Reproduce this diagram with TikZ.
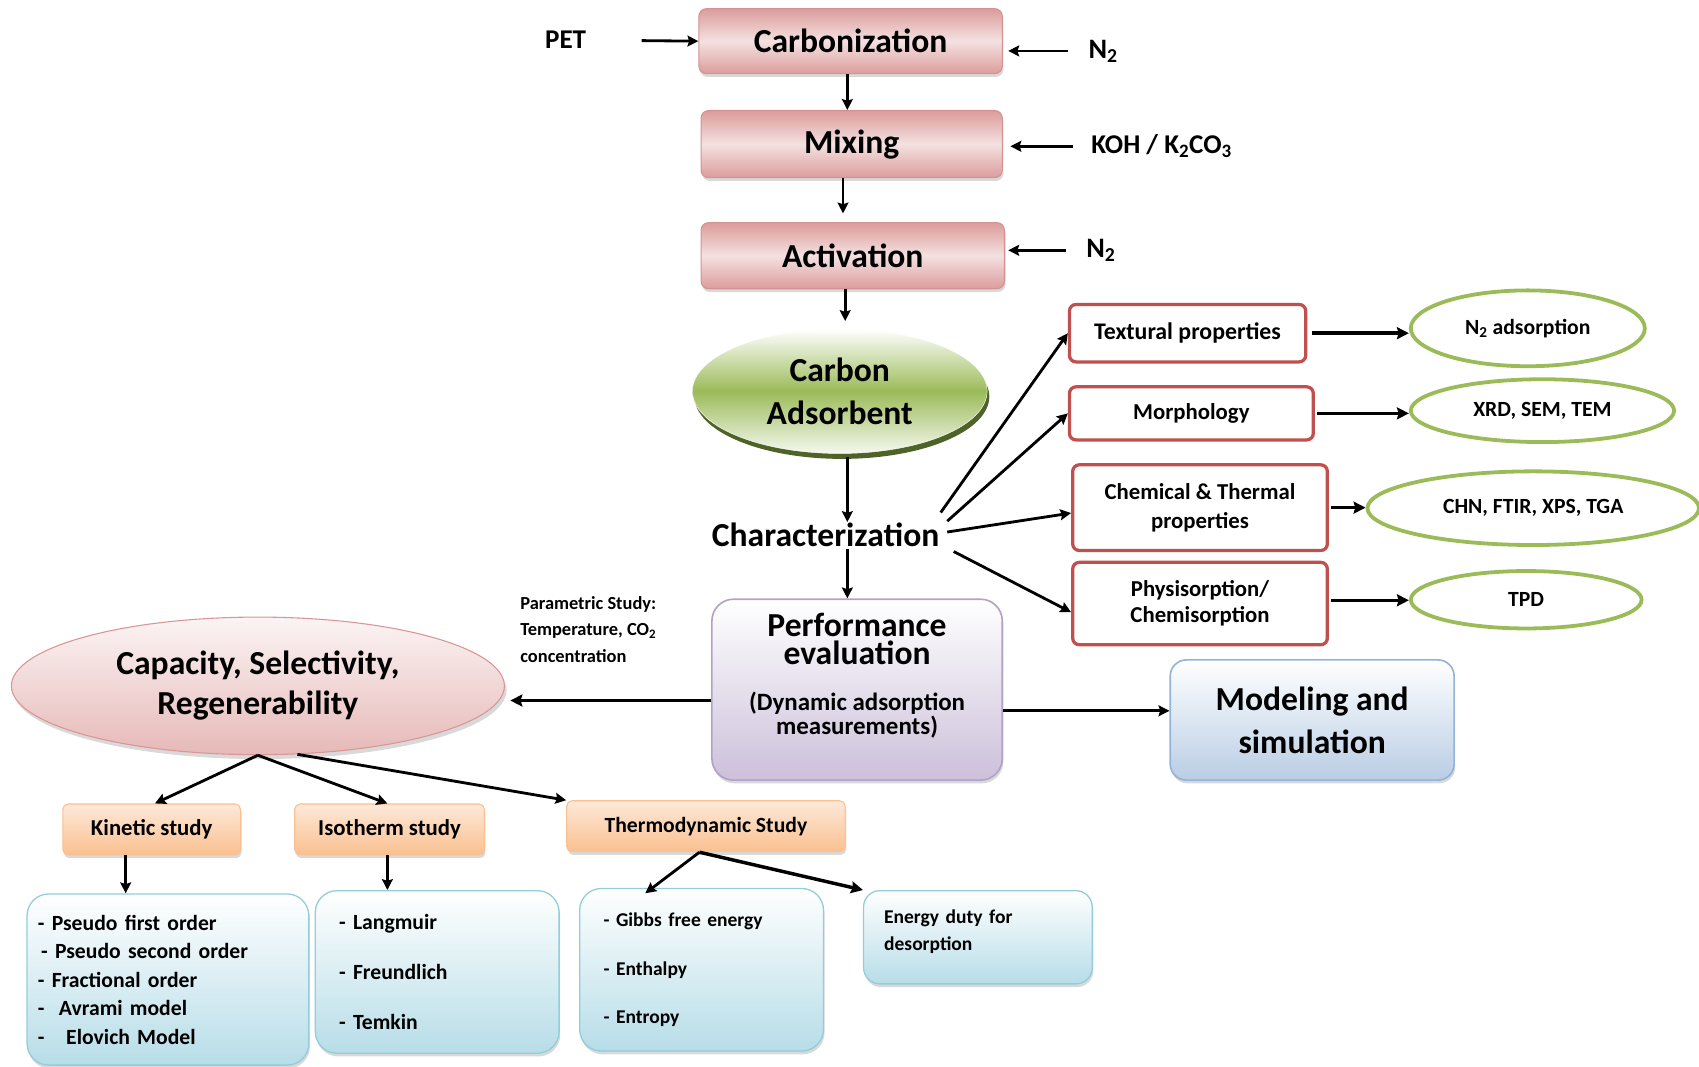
\documentclass[tikz,border=0pt]{standalone}
\usepackage{fontspec}
\setmainfont{Carlito}
\usetikzlibrary{shapes.geometric,shadows,arrows.meta}
\newcommand\fsz[2]{\fontsize{#1}{#2}\selectfont}
\definecolor{procdark}{HTML}{DB9C9B}
\definecolor{proclight}{HTML}{F4E1E1}
\definecolor{procedge}{HTML}{D49392}
\definecolor{carbgreen}{HTML}{9BBB59}
\definecolor{carbshadow}{HTML}{4F6228}
\definecolor{redline}{HTML}{C0504D}
\definecolor{purpline}{HTML}{B3A2C7}
\definecolor{purpfill}{HTML}{CCC0DA}
\definecolor{capfill}{HTML}{E6B9B8}
\definecolor{capline}{HTML}{D99694}
\definecolor{modline}{HTML}{95B3D7}
\definecolor{modfill}{HTML}{B9CDE5}
\definecolor{orangetop}{HTML}{FDE9D9}
\definecolor{orangebot}{HTML}{FAC090}
\definecolor{bluefill}{HTML}{B7DDE8}
\definecolor{blueline}{HTML}{92CDDC}
\begin{document}
\begin{tikzpicture}[x=1pt,y=-1pt,font=\bfseries,
  arr/.style={-{Stealth[length=10pt,width=10pt,inset=1.5pt]},line width=2.6pt},
  bigarr/.style={-{Stealth[length=11pt,width=11pt,inset=1.5pt]},line width=3.2pt},
  procbox/.style={rectangle,rounded corners=7pt,draw=procedge,line width=1pt,
    top color=procdark,bottom color=procdark,middle color=proclight,
    minimum width=280pt,minimum height=60pt,inner sep=0pt,font=\bfseries\fsz{31}{33},
    drop shadow={opacity=0.3,shadow xshift=1pt,shadow yshift=-3pt}},
  propbox/.style={rectangle,rounded corners=6pt,draw=redline,line width=3pt,fill=white,
    inner sep=0pt,align=center,font=\bfseries\fsz{21}{27}},
  techell/.style={ellipse,draw=carbgreen,line width=3.5pt,fill=white,inner sep=0pt,
    font=\bfseries\fsz{20}{24}},
  studybox/.style={rectangle,rounded corners=5pt,draw=orangebot,line width=1pt,
    top color=orangetop,bottom color=orangebot,minimum height=47pt,inner sep=0pt,
    font=\bfseries\fsz{21}{24},drop shadow={opacity=0.3,shadow xshift=1pt,shadow yshift=-3pt}},
  listbox/.style={rectangle,rounded corners=20pt,draw=blueline,line width=1.2pt,
    top color=white,bottom color=bluefill,inner sep=0pt,align=left,
    drop shadow={opacity=0.3,shadow xshift=1pt,shadow yshift=-3pt}},
  plain/.style={inner sep=1pt,align=center}]
\useasboundingbox (0,0) rectangle (1568,984);

% preparation line
\node[procbox] (carb) at (785,38) {Carbonization};
\node[procbox,minimum width=278pt,minimum height=62pt] (mix) at (786,133) {Mixing};
\node[procbox,minimum height=61pt] (act) at (787,236) {Activation};
\node[plain,font=\bfseries\fsz{25}{28}] (pet) at (522,37) {PET};
\node[plain,font=\bfseries\fsz{26}{28}] (n2a) at (1018,47) {N\textsubscript{2}};
\node[plain,font=\bfseries\fsz{25}{28}] (koh) at (1072,135) {KOH / K\textsubscript{2}CO\textsubscript{3}};
\node[plain,font=\bfseries\fsz{26}{28}] (n2b) at (1016,231) {N\textsubscript{2}};

\node[ellipse,minimum width=272pt,minimum height=115pt,inner sep=0pt,draw=white,
  top color=white,bottom color=white!90!carbgreen,middle color=carbgreen,
  drop shadow={fill=carbshadow,opacity=1,shadow xshift=2pt,shadow yshift=-5pt},
  align=center,font=\bfseries\fsz{31}{40}] (carbon) at (775,361) {Carbon\\Adsorbent};
\node[plain,font=\bfseries\fsz{31}{33}] (char) at (762,494) {Characterization};

\draw[arr,shorten <=50pt] (pet.east) -- (carb.west);
\draw[arr,shorten <=18pt,shorten >=5pt] (n2a.west) -- (n2a.west -| carb.east);
\draw[arr,shorten <=16pt,shorten >=7pt] (koh.west) -- (koh.west -| mix.east);
\draw[arr,shorten <=18pt,shorten >=3pt] (n2b.west) -- (n2b.west -| act.east);
\draw[arr] ([xshift=-3pt]carb.south) -- ([xshift=-4pt]mix.north);
\draw[arr] ([xshift=-8pt]mix.south) -- ([xshift=-9pt,yshift=8pt]act.north);
\draw[arr] ([xshift=-7pt]act.south) -- ([xshift=5pt,yshift=7pt]carbon.north);
\draw[arr] ([xshift=7pt,yshift=-3pt]carbon.south) -- ([xshift=20pt]char.north);

% characterization
\node[propbox,minimum width=218pt,minimum height=53pt,font=\bfseries\fsz{22}{26}] (text) at (1096,307.5) {Textural properties};
\node[propbox,minimum width=225pt,minimum height=49pt] (morph) at (1099.5,381.5) {Morphology};
\node[propbox,minimum width=235pt,minimum height=79pt] (chem) at (1107.5,468.5) {Chemical \& Thermal\\properties};
\node[propbox,minimum width=235pt,minimum height=76pt,font=\bfseries\fsz{21}{24}] (phys) at (1107.5,557) {Physisorption/\\Chemisorption};
\node[techell,minimum width=216pt,minimum height=70pt] (n2ad) at (1410,303) {N\textsubscript{2} adsorption};
\node[techell,minimum width=243pt,minimum height=58pt] (xrd) at (1423.5,379) {XRD, SEM, TEM};
\node[techell,minimum width=306pt,minimum height=68pt] (chn) at (1415,469) {CHN, FTIR, XPS, TGA};
\node[techell,minimum width=213pt,minimum height=53pt] (tpd) at (1408.5,553.5) {TPD};

\draw[arr] ([yshift=21pt]char.east) -- (text.west);
\draw[arr] ([xshift=6pt,yshift=13pt]char.east) -- (morph.west);
\draw[arr] ([xshift=6pt,yshift=3pt]char.east) -- ([yshift=-5pt]chem.west);
\draw[arr] ([xshift=12pt,yshift=-15pt]char.east) -- ([yshift=-8pt]phys.west);
\draw[bigarr,shorten <=4pt] (text.east) -- (text.east -| n2ad.west);
\draw[bigarr,shorten <=2pt] (morph.east) -- (morph.east -| xrd.west);
\draw[bigarr,shorten <=2pt] (chem.east) -- (chem.east -| chn.west);
\draw[bigarr,shorten <=2pt] ([yshift=3pt]phys.east) -- ([yshift=3pt]phys.east -| tpd.west);

% performance
\node[rectangle,rounded corners=20pt,draw=purpline,line width=1.5pt,top color=white,
  bottom color=purpfill,minimum width=268pt,minimum height=167pt,
  drop shadow={opacity=0.3,shadow xshift=1pt,shadow yshift=-3pt}] (perf) at (791,636.5) {};
\node[plain,font=\bfseries\fsz{31}{26}] (perfa) at (791,590) {Performance\\evaluation};
\node[plain,font=\bfseries\fsz{23}{20}] (perfb) at (791,660) {(Dynamic adsorption\\measurements)};
\node[plain,anchor=north west,align=left,font=\bfseries\fsz{17}{24.5}] (param) at (479,549)
  {Parametric Study:\\Temperature, CO\textsubscript{2}\\concentration};
\draw[arr] ([xshift=-9pt]perf.north |- char.south) -- ([xshift=-9pt]perf.north);

\node[ellipse,minimum width=455pt,minimum height=127pt,inner sep=0pt,draw=capline,line width=1pt,
  top color=white!85!capfill,bottom color=capfill,align=center,font=\bfseries\fsz{31}{40},
  drop shadow={opacity=0.3,shadow xshift=2pt,shadow yshift=-4pt}] (cap) at (238,633)
  {\raisebox{-3pt}{Capacity, Selectivity,}\\Regenerability};
\node[rectangle,rounded corners=15pt,draw=modline,line width=1.5pt,top color=white,
  bottom color=modfill,minimum width=262pt,minimum height=111pt,align=center,
  font=\bfseries\fsz{31}{40},drop shadow={opacity=0.3,shadow xshift=1pt,shadow yshift=-3pt}]
  (model) at (1211,664.5) {Modeling and\\simulation};

\draw[bigarr,shorten >=5pt] ([yshift=-10pt]perf.west) -- ([yshift=-10pt]perf.west -| cap.east);
\draw[arr] ([yshift=-19.5pt]perf.east) -- ([yshift=-19.5pt]perf.east -| model.west);

% studies
\node[studybox,minimum width=164pt] (kin) at (140,765.5) {Kinetic study};
\node[studybox,minimum width=175pt] (iso) at (359.5,765.5) {Isotherm study};
\node[studybox,minimum width=257pt,font=\bfseries\fsz{20}{24}] (thermo) at (651.5,762.5) {Thermodynamic Study};

\draw[arr] (cap.south) -- ([xshift=3pt]kin.north);
\draw[arr] (cap.south) -- ([xshift=-2pt]iso.north);
\draw[arr] (cap.-60) -- (thermo.north west);

\node[listbox,minimum width=260pt,minimum height=158pt,text width=240pt,font=\bfseries\fsz{20}{26.3}] (kinl) at (155,904)
  {- Pseudo first order\\\hspace{3pt}- Pseudo second order\\- Fractional order\\-\ \ Avrami model\\-\ \ \ Elovich Model};
\node[listbox,minimum width=225pt,minimum height=150pt,text width=181pt,font=\bfseries\fsz{20}{46.5}] (isol) at (403.5,897)
  {- Langmuir\\- Freundlich\\- Temkin};
\node[listbox,minimum width=225pt,minimum height=150pt,text width=181pt,font=\bfseries\fsz{18}{45}] (thermol) at (647.5,895)
  {- Gibbs free energy\\- Enthalpy\\- Entropy};
\node[listbox,rounded corners=15pt,minimum width=211pt,minimum height=86pt,text width=173pt,font=\bfseries\fsz{18}{25}] (energy) at (902.5,865)
  {Energy duty for\\desorption\\[-12pt]\mbox{}};

\draw[arr] ([xshift=-24pt]kin.south) -- ([xshift=-24pt]kin.south |- kinl.north);
\draw[arr] ([xshift=-2pt]iso.south) -- ([xshift=-2pt]iso.south |- isol.north);
\draw[arr] ([xshift=-6pt]thermo.south) -- ([xshift=-52pt,yshift=-5pt]thermol.north);
\draw[bigarr] ([xshift=-6pt]thermo.south) -- (energy.north west);
\end{tikzpicture}
\end{document}
